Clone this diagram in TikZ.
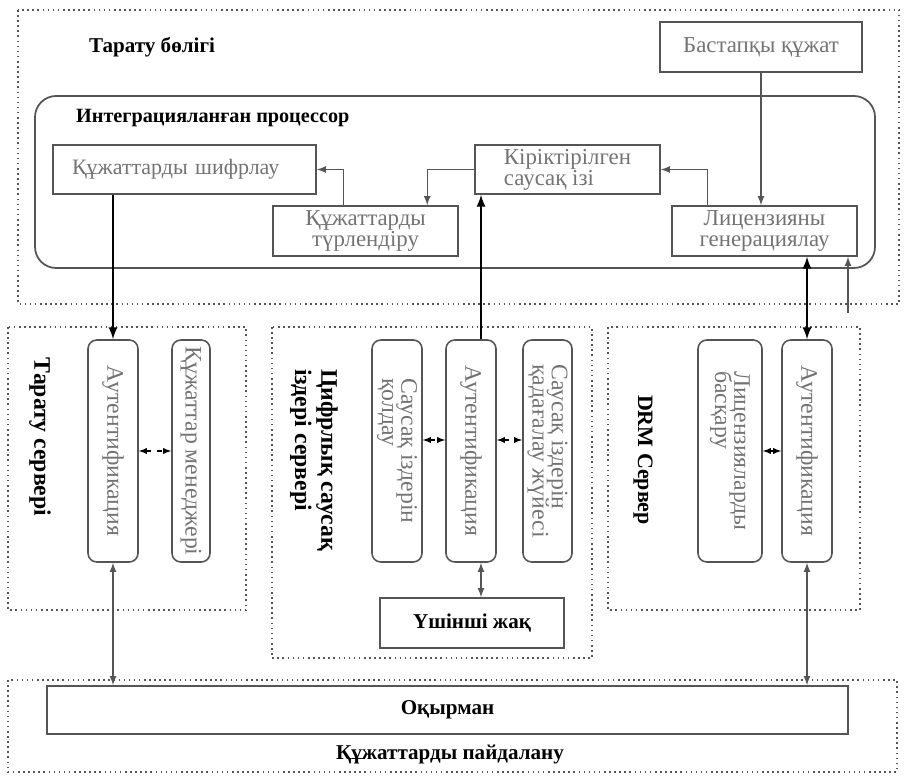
\documentclass[tikz,border=0pt]{standalone}
\usepackage{fontspec}
\setmainfont{Liberation Serif}
\usetikzlibrary{positioning}

\definecolor{linegray}{RGB}{85,85,85}
\definecolor{textgray}{RGB}{115,115,115}

\tikzset{
  box/.style={draw=linegray, line width=.9pt, text=textgray, inner sep=2pt,
    font=\fontsize{13}{14}\selectfont},
  vbox/.style={box, rounded corners=5pt, rotate=-90, minimum width=4.44cm, align=left,
    font=\fontsize{13.5}{14}\selectfont},
  frame/.style={draw=linegray, dotted, line width=.9pt},
  heading/.style={font=\fontsize{12}{13}\selectfont\bfseries, text=black},
  bigarrow/.style={draw=black, line width=1.3pt, -latex},
  thinarrow/.style={draw=linegray, line width=.8pt, -latex},
  pairarrow/.style={draw=linegray, line width=.8pt, latex-latex},
  tinyarrow/.style={draw=black, line width=.6pt, dashed, latex-latex}
}

\begin{document}
\begin{tikzpicture}
    \useasboundingbox (0,0) rectangle (18.08,-15.6);

    % Distribution part (outer dotted frame)
    \draw[frame] (0.36,-0.2) rectangle (17.98,-6.08);
    \node[heading] (distpart) at (3.04,-0.94) {Тарату бөлігі};

    % Integrated processor
    \draw[draw=linegray, line width=1pt, rounded corners=12pt] (0.7,-1.92) rectangle (17.5,-5.36);
    \node[heading, anchor=west, font=\fontsize{11.5}{13}\selectfont\bfseries] (proc) at (1.4,-2.36) {Интеграцияланған процессор};

    % Boxes inside the processor
    \node[box, minimum width=4.04cm, minimum height=1cm] (src) at (15.22,-0.94) {Бастапқы құжат};
    \node[box, minimum width=5.26cm, minimum height=0.98cm, align=left, text width=4.5cm,
      font=\fontsize{12.5}{13}\selectfont] (enc) at (3.69,-3.39) {Құжаттарды шифрлау};
    \node[box, minimum width=3.7cm, minimum height=0.98cm, align=left] (fp) at (11.35,-3.39) {Кіріктірілген\\[-2pt]саусақ ізі};
    \node[box, minimum width=3.7cm, minimum height=1cm, align=center] (conv) at (7.31,-4.62) {Құжаттарды\\[-2pt]түрлендіру};
    \node[box, minimum width=3.7cm, minimum height=1cm, align=center] (lic) at (15.29,-4.62) {Лицензияны\\[-2pt]генерациялау};

    % Flow inside the processor
    \draw[thinarrow] (src.south) -- (src.south |- lic.north);
    \draw[thinarrow] ([xshift=0.72cm]lic.north west) |- (fp.east);
    \draw[thinarrow] (fp.west) -| ([xshift=3.1cm]conv.north west);
    \draw[thinarrow] ([xshift=1.42cm]conv.north west) |- (enc.east);

    % Server frames
    \draw[frame] (0.16,-6.54) rectangle (4.92,-12.2);
    \draw[frame] (5.44,-6.54) rectangle (11.84,-13.16);
    \draw[frame] (12.16,-6.54) rectangle (17.2,-12.2);

    % Server headings (rotated: west is the top, north is the right side)
    \node[heading, rotate=-90, font=\fontsize{13.5}{15}\selectfont\bfseries] (distsrv) at (0.8,-8.74) {Тарату сервері};
    \node[heading, rotate=-90, align=left, font=\fontsize{13.5}{15}\selectfont\bfseries] (fpsrv) at (6.28,-9.2) {Цифрлық саусақ\\іздері сервері};
    \node[heading, rotate=-90, font=\fontsize{12.5}{14}\selectfont\bfseries] (drmsrv) at (12.86,-9.2) {DRM Сервер};

    % Distribution server
    \node[vbox, minimum height=1cm] (tAuth) at (2.26,-9.02) {Аутентификация};
    \node[vbox, minimum height=0.76cm] (tMgr) at (3.82,-9.02) {Құжаттар менеджері};

    % Digital fingerprint server
    \node[vbox, minimum height=1cm] (fpSup) at (7.94,-9.02) {Саусақ іздерін\\[-3pt]қолдау};
    \node[vbox, minimum height=1cm] (fAuth) at (9.42,-9.02) {Аутентификация};
    \node[vbox, minimum height=0.98cm] (fpTrack) at (10.95,-9.02) {Саусақ іздерін\\[-3pt]қадағалау жүйесі};
    \node[box, minimum width=3.68cm, minimum height=1cm, text=black, font=\fontsize{12}{14}\selectfont\bfseries] (third) at (9.44,-12.46) {Үшінші жақ};

    % DRM server
    \node[vbox, minimum height=1.28cm] (licMgr) at (14.6,-9.02) {Лицензияларды\\[-3pt]басқару};
    \node[vbox, minimum height=1cm] (dAuth) at (16.14,-9.02) {Аутентификация};

    % Document usage
    \draw[frame] (0.16,-13.6) rectangle (17.94,-15.44);
    \node[box, minimum width=16.02cm, minimum height=0.96cm, text=black, font=\fontsize{12}{13}\selectfont\bfseries] (reader) at (8.95,-14.2) {Оқырман};
    \node[heading] (usage) at (9.0,-15.1) {Құжаттарды пайдалану};

    % Connections between parts
    \draw[bigarrow] (enc.south -| tAuth.center) -- (tAuth.west);
    \draw[bigarrow] ([xshift=0.2cm]fAuth.west) -- ([xshift=0.2cm]fAuth.west |- fp.south);
    \draw[bigarrow, latex-latex] (lic.south -| dAuth.center) -- (dAuth.west);
    \coordinate (feed) at (16.96,-6.26);
    \draw[thinarrow] (feed) -- (feed |- lic.south);

    % Links inside the servers
    \draw[tinyarrow] (tAuth.north) -- (tMgr.south);
    \draw[tinyarrow] ([yshift=0.22cm]fpSup.north) -- ([yshift=0.22cm]fAuth.south);
    \draw[tinyarrow] ([yshift=0.22cm]fAuth.north) -- ([yshift=0.22cm]fpTrack.south);
    \draw[tinyarrow] (licMgr.north) -- (dAuth.south);
    \draw[pairarrow] ([xshift=0.2cm]fAuth.east) -- ([xshift=0.2cm]fAuth.east |- third.north);

    % Links to the reader
    \draw[pairarrow] (tAuth.east) -- (tAuth.east |- reader.north);
    \draw[pairarrow] (dAuth.east) -- (dAuth.east |- reader.north);
\end{tikzpicture}
\end{document}
